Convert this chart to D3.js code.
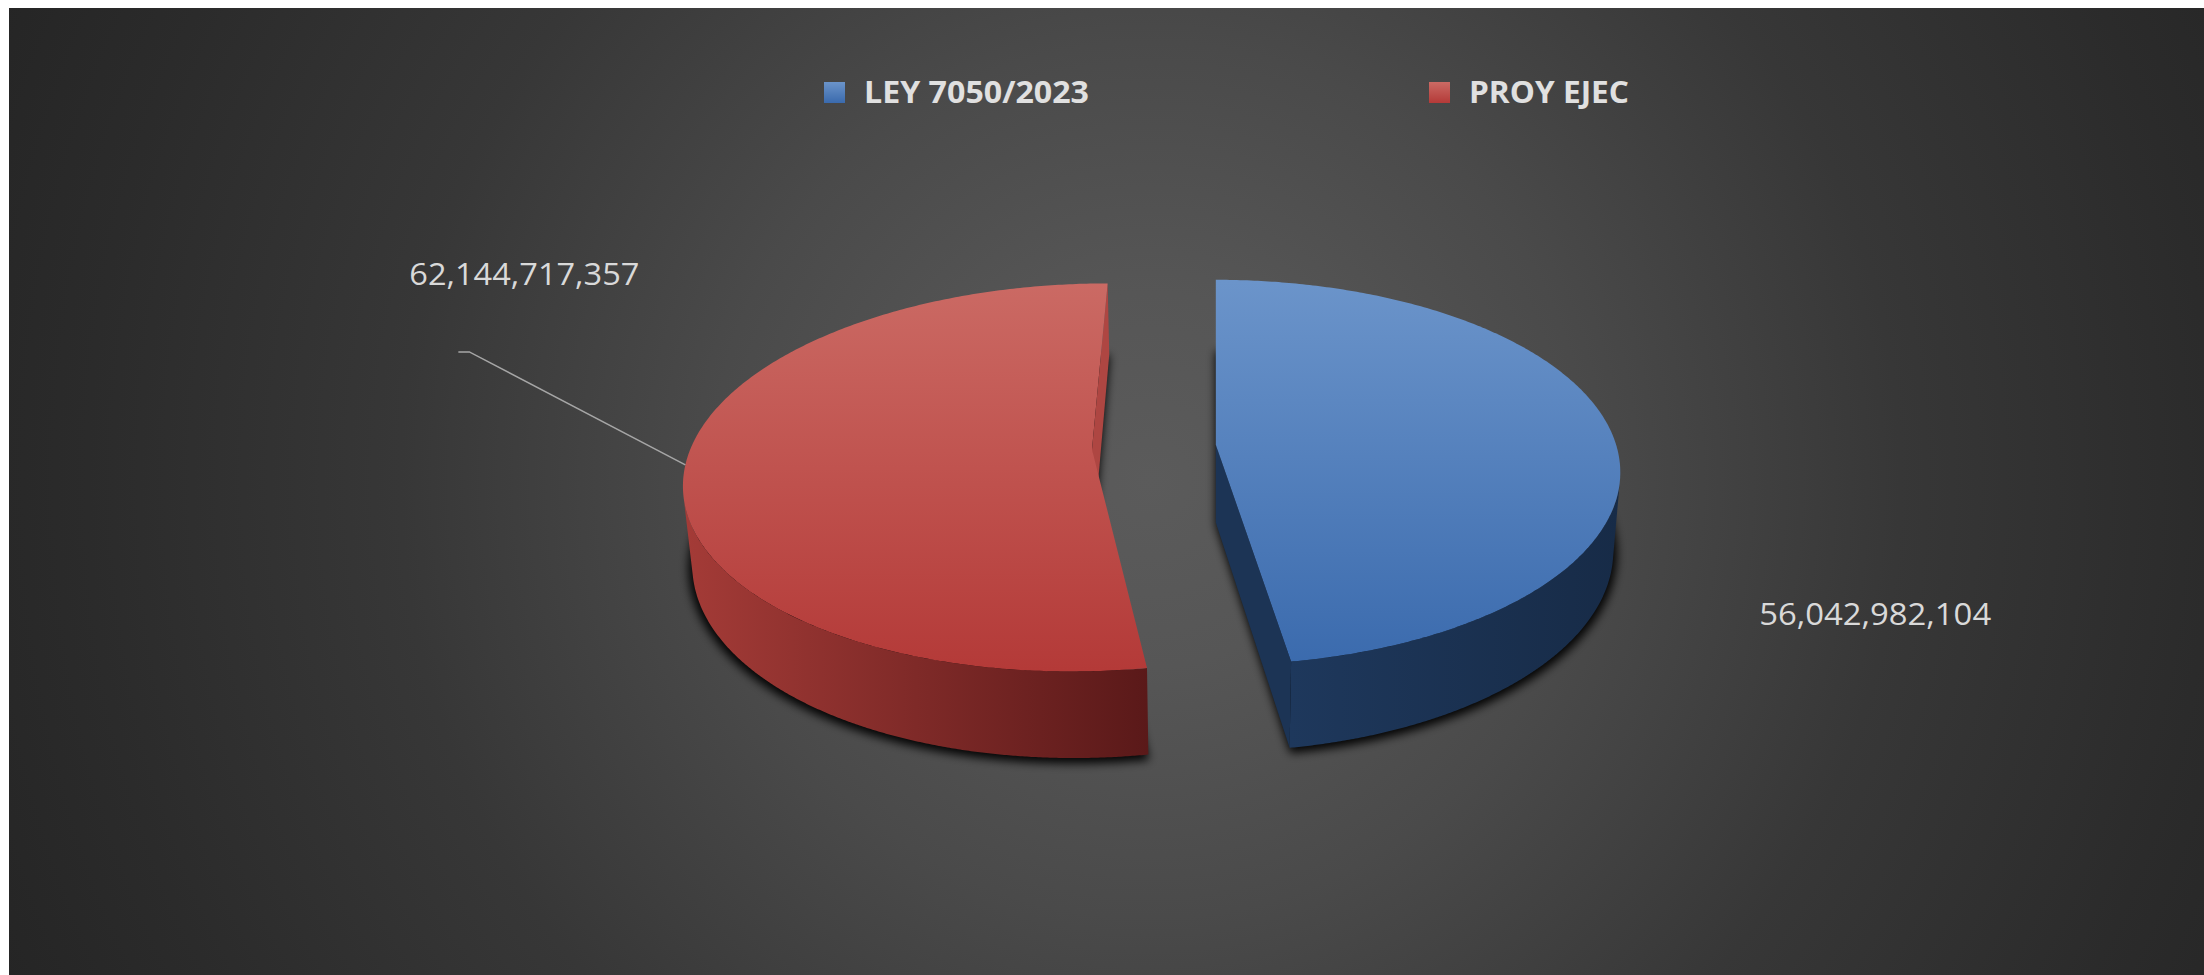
<!DOCTYPE html>
<html>
<head>
<meta charset="utf-8">
<script src="https://cdn.jsdelivr.net/npm/d3@7"></script>
<style>
  html, body { margin: 0; padding: 0; background: #ffffff; }
  svg { display: block; }
</style>
</head>
<body>
<svg id="chart" width="2204" height="975"></svg>
<script>
// ---------------- data ----------------
const categories = ["LEY 7050/2023", "PROY EJEC"];
const values = [56042982104, 62144717357];

// ---------------- styles ----------------
const topColors  = [["#6b94ca", "#3a6aad"], ["#cb6a64", "#b43a38"]];
const wallColors = [["#1e385c", "#172b47"], ["#a43b37", "#5a1919"]];
const cutColors  = ["#1c3455", "#ae4642"];

const W = 2204, H = 975;
const svg = d3.select("#chart");
const defs = svg.append("defs");

// background
const bg = defs.append("radialGradient").attr("id", "bg")
  .attr("gradientUnits", "userSpaceOnUse")
  .attr("cx", 1150).attr("cy", 480).attr("r", 1250);
[[0, "#5b5b5b"], [0.15, "#565656"], [0.35, "#4a4a4a"], [0.6, "#373737"], [0.85, "#2b2b2b"], [1, "#252525"]]
  .forEach(([o, c]) => bg.append("stop").attr("offset", o).attr("stop-color", c));
svg.append("rect").attr("x", 9).attr("y", 8).attr("width", W - 9).attr("height", H - 8).attr("fill", "url(#bg)");

// shadow filter
const f = defs.append("filter").attr("id", "shadow")
  .attr("x", "-20%").attr("y", "-20%").attr("width", "140%").attr("height", "140%");
f.append("feGaussianBlur").attr("stdDeviation", 5);

// gradients per slice
categories.forEach((c, i) => {
  const gt = defs.append("linearGradient").attr("id", "top" + i)
    .attr("gradientUnits", "userSpaceOnUse").attr("x1", 0).attr("x2", 0).attr("y1", 282).attr("y2", 670);
  gt.append("stop").attr("offset", 0).attr("stop-color", topColors[i][0]);
  gt.append("stop").attr("offset", 1).attr("stop-color", topColors[i][1]);
  const gw = defs.append("linearGradient").attr("id", "wall" + i)
    .attr("x1", 0).attr("x2", 1).attr("y1", 0).attr("y2", 0);
  gw.append("stop").attr("offset", 0).attr("stop-color", wallColors[i][0]);
  gw.append("stop").attr("offset", 1).attr("stop-color", wallColors[i][1]);
  const gl = defs.append("linearGradient").attr("id", "leg" + i)
    .attr("x1", 0).attr("x2", 0).attr("y1", 0).attr("y2", 1);
  gl.append("stop").attr("offset", 0).attr("stop-color", topColors[i][0]);
  gl.append("stop").attr("offset", 1).attr("stop-color", topColors[i][1]);
});

// ---------------- 3D projection ----------------
const cam = { px: 1216, py: 447, D: 2450, alpha: Math.asin(0.472) };
const geo = { R: 401, T: 90, X0: -62, e: 62 };
const ca = Math.cos(cam.alpha), sa = Math.sin(cam.alpha);
function proj(X, Y, Z) {
  const yv = Y * ca - Z * sa, zv = Y * sa + Z * ca;
  const s = cam.D / (cam.D - zv);
  return [cam.px + X * s, cam.py - yv * s];
}
const camPos = [0, cam.D * sa, cam.D * ca];

const pie = d3.pie().sort(null).value(d => d);
const arcs = pie(values);

const line = d3.line();
const sliceGeo = arcs.map((a, i) => {
  const tm = (a.startAngle + a.endAngle) / 2;
  const cX = geo.X0 + geo.e * Math.sin(tm);
  const cZ = -geo.e * Math.cos(tm);
  return { a, i, tm, cX, cZ };
});

function rim(g, t, Y, r = geo.R) {
  return proj(g.cX + r * Math.sin(t), Y, g.cZ - r * Math.cos(t));
}
function arcPts(g, t0, t1, Y, r) {
  const n = Math.max(2, Math.ceil(Math.abs(t1 - t0) / 0.01));
  return d3.range(n + 1).map(k => rim(g, t0 + (t1 - t0) * k / n, Y, r));
}

// shadows (blurred bottom faces)
const shadowG = svg.append("g").attr("filter", "url(#shadow)");
sliceGeo.forEach(g => {
  const pts = [proj(g.cX, -geo.T - 3, g.cZ)].concat(arcPts(g, g.a.startAngle, g.a.endAngle, -geo.T - 3, geo.R * 1.01));
  shadowG.append("path").attr("d", line(pts) + "Z").attr("fill", "#000").attr("fill-opacity", 0.95);
});

// slices
sliceGeo.forEach(g => {
  const G = svg.append("g");
  const { a, i } = g;
  // cut faces
  [[a.startAngle, -1], [a.endAngle, 1]].forEach(([t, sgn]) => {
    const n = [sgn * Math.cos(t), 0, sgn * Math.sin(t)];
    const d = [camPos[0] - g.cX, camPos[1], camPos[2] - g.cZ];
    if (n[0] * d[0] + n[2] * d[2] > 0) {
      const pts = [proj(g.cX, 0, g.cZ), rim(g, t, 0), rim(g, t, -geo.T), proj(g.cX, -geo.T, g.cZ)];
      G.append("path").attr("d", line(pts) + "Z").attr("fill", cutColors[i]);
    }
  });
  // outer wall (visible part)
  const n = Math.ceil((a.endAngle - a.startAngle) / 0.005);
  const ts = d3.range(n + 1).map(k => a.startAngle + (a.endAngle - a.startAngle) * k / n);
  const vis = ts.map(t => {
    const Px = g.cX + geo.R * Math.sin(t), Pz = g.cZ - geo.R * Math.cos(t);
    return (camPos[0] - Px) * Math.sin(t) + (camPos[2] - Pz) * (-Math.cos(t)) > 0;
  });
  let run = [];
  const runs = [];
  ts.forEach((t, k) => { if (vis[k]) run.push(t); else { if (run.length > 1) runs.push(run); run = []; } });
  if (run.length > 1) runs.push(run);
  runs.forEach(r => {
    const topP = r.map(t => rim(g, t, 0));
    const botP = r.map(t => rim(g, t, -geo.T)).reverse();
    G.append("path").attr("d", line(topP.concat(botP)) + "Z").attr("fill", `url(#wall${i})`);
  });
  // top face
  const topPts = [proj(g.cX, 0, g.cZ)].concat(arcPts(g, a.startAngle, a.endAngle, 0));
  G.append("path").attr("d", line(topPts) + "Z").attr("fill", `url(#top${i})`);
});

// ---------------- data labels ----------------
const fmt = d3.format(",");
const labelFont = "'Open Sans', 'Noto Sans', sans-serif";
// blue label (LEY)
{
  const g = sliceGeo[0];
  const p = rim(g, g.tm, 0);
  svg.append("text").attr("x", p[0] + 149).attr("y", p[1] + 195)
    .attr("font-family", labelFont).attr("font-size", 31).attr("fill", "#d9d9d9")
    .attr("textLength", 232).attr("lengthAdjust", "spacingAndGlyphs")
    .text(fmt(values[0]));
}
// red label (PROY) with leader
{
  const g = sliceGeo[1];
  const p = rim(g, g.tm, 0);
  const elbow = [p[0] - 216, p[1] - 113];
  svg.append("path").attr("d", line([p, elbow, [elbow[0] - 11, elbow[1]]]))
    .attr("fill", "none").attr("stroke", "#a6a6a6").attr("stroke-width", 1.5);
  svg.append("text").attr("x", elbow[0] - 60).attr("y", elbow[1] - 67)
    .attr("font-family", labelFont).attr("font-size", 31).attr("fill", "#d9d9d9")
    .attr("textLength", 230).attr("lengthAdjust", "spacingAndGlyphs")
    .text(fmt(values[1]));
}

// ---------------- legend ----------------
const legX = d3.scalePoint().domain(categories).range([824, 1429]);
const legWidths = [225, 160];
categories.forEach((c, i) => {
  const x = legX(c);
  svg.append("rect").attr("x", x).attr("y", 82).attr("width", 21).attr("height", 21)
    .attr("fill", `url(#leg${i})`);
  svg.append("text").attr("x", x + 40).attr("y", 103)
    .attr("font-family", labelFont).attr("font-weight", "bold").attr("font-size", 31)
    .attr("fill", "#e0e0e0")
    .attr("textLength", legWidths[i]).attr("lengthAdjust", "spacingAndGlyphs")
    .text(c);
});
</script>
</body>
</html>
